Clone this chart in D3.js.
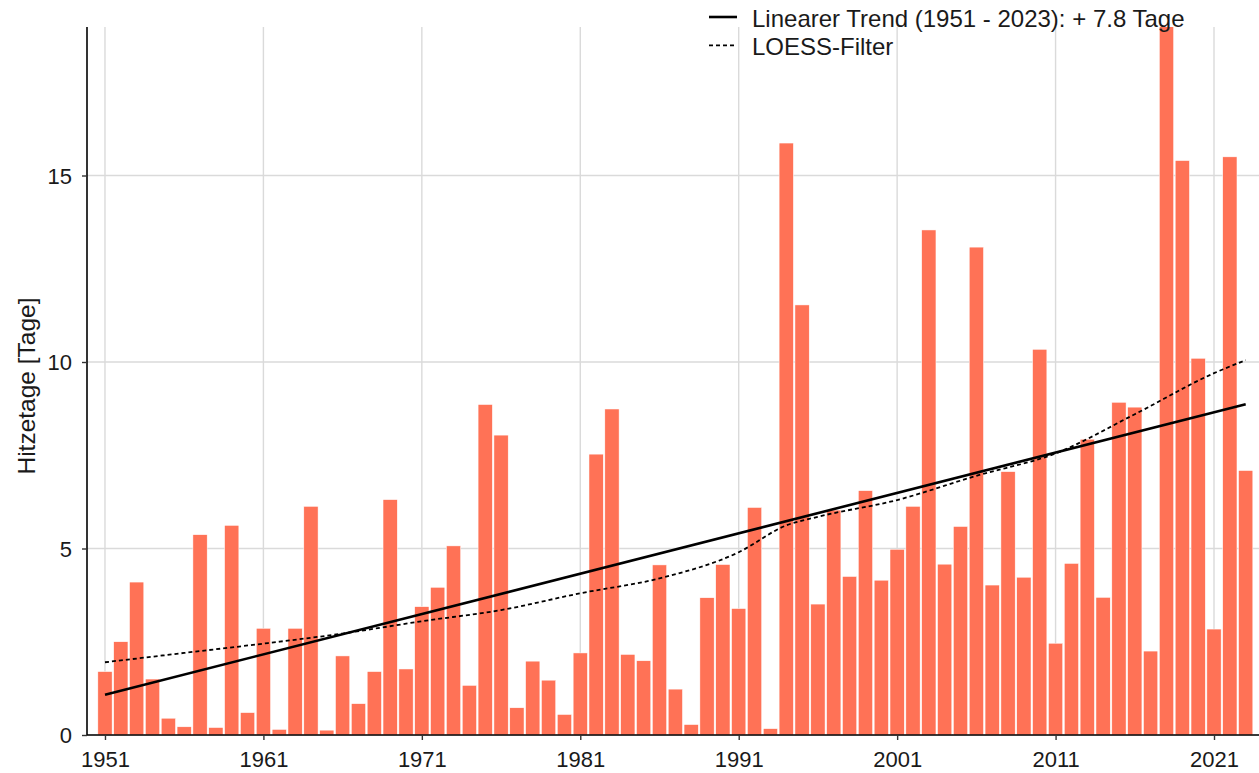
<!DOCTYPE html>
<html>
<head>
<meta charset="utf-8">
<script src="https://cdn.jsdelivr.net/npm/d3@7"></script>
<style>
  body { margin: 0; background: #fff; }
  text { font-family: "Liberation Sans", Arial, sans-serif; fill: #1a1a1a; }
</style>
</head>
<body>
<svg id="chart" width="1259" height="773"></svg>
<script>
// Hitzetage per year, 1951 - 2023
const years = d3.range(1951, 2024);
const hitzetage = [
  1.7, 2.5, 4.1, 1.5, 0.45, 0.22, 5.37, 0.2, 5.62, 0.6,
  2.86, 0.15, 2.86, 6.13, 0.13, 2.12, 0.84, 1.7, 6.31, 1.77,
  3.44, 3.96, 5.07, 1.33, 8.86, 8.04, 0.73, 1.98, 1.47, 0.55,
  2.2, 7.53, 8.74, 2.16, 1.99, 4.56, 1.23, 0.28, 3.68, 4.57,
  3.39, 6.1, 0.17, 15.87, 11.53, 3.51, 6.03, 4.25, 6.55, 4.15,
  4.98, 6.13, 13.54, 4.58, 5.59, 13.08, 4.02, 7.06, 4.23, 10.34,
  2.46, 4.6, 7.93, 3.69, 8.92, 8.79, 2.25, 19.2, 15.4, 10.1,
  2.84, 15.5, 7.09
];

// linear trend endpoints (1951, 2023)
const trendYears = [1951, 2023];
const trendValues = [1.08, 8.87];

// LOESS filter
const loessYears = [1951, 1956, 1961, 1966, 1971, 1976, 1981, 1986, 1991, 1994, 1996, 2001, 2006, 2011, 2016, 2021, 2023];
const loessValues = [1.95, 2.2, 2.45, 2.72, 3.05, 3.35, 3.8, 4.2, 4.9, 5.62, 5.85, 6.3, 6.95, 7.55, 8.6, 9.7, 10.05];

const xTicks = [1951, 1961, 1971, 1981, 1991, 2001, 2011, 2021];
const yTicks = [0, 5, 10, 15];

const pLeft = 87, pRight = 1259, pTop = 27, pBottom = 735;

const svg = d3.select("#chart");

const x = d3.scaleLinear()
    .domain([1949.865, 2023.84])
    .range([pLeft, pRight]);

const y = d3.scaleLinear()
    .domain([0, 19])
    .range([pBottom, pBottom - 19 * 37.3]);

const step = x(1952) - x(1951);
const barW = step * 0.9;

svg.append("clipPath").attr("id", "panel")
  .append("rect")
    .attr("x", pLeft).attr("y", pTop)
    .attr("width", pRight - pLeft).attr("height", pBottom - pTop);

// grid
svg.append("g")
  .selectAll("line")
  .data(yTicks)
  .join("line")
    .attr("x1", pLeft).attr("x2", pRight)
    .attr("y1", d => y(d)).attr("y2", d => y(d))
    .attr("stroke", "#dadada").attr("stroke-width", 1.4);

svg.append("g")
  .selectAll("line")
  .data(xTicks)
  .join("line")
    .attr("x1", d => x(d)).attr("x2", d => x(d))
    .attr("y1", pTop).attr("y2", pBottom)
    .attr("stroke", "#dadada").attr("stroke-width", 1.4);

// bars
svg.append("g")
    .attr("clip-path", "url(#panel)")
  .selectAll("rect")
  .data(years)
  .join("rect")
    .attr("x", d => x(d) - barW / 2)
    .attr("width", barW)
    .attr("y", (d, i) => y(hitzetage[i]))
    .attr("height", (d, i) => pBottom - y(hitzetage[i]))
    .attr("fill", "#FF7256")
    .attr("stroke", "#fff")
    .attr("stroke-width", 0.5);

// LOESS
const loessLine = d3.line()
    .x(d => x(d[0]))
    .y(d => y(d[1]))
    .curve(d3.curveMonotoneX);

svg.append("path")
    .datum(loessYears.map((yr, i) => [yr, loessValues[i]]))
    .attr("d", loessLine)
    .attr("fill", "none")
    .attr("stroke", "#000")
    .attr("stroke-width", 1.8)
    .attr("stroke-dasharray", "4,3");

// linear trend
svg.append("path")
    .datum(trendYears.map((yr, i) => [yr, trendValues[i]]))
    .attr("d", d3.line().x(d => x(d[0])).y(d => y(d[1])))
    .attr("fill", "none")
    .attr("stroke", "#000")
    .attr("stroke-width", 2.6);

// axes
const xAxis = svg.append("g")
    .attr("transform", `translate(0,${pBottom})`)
    .call(d3.axisBottom(x).tickValues(xTicks).tickFormat(d3.format("d")).tickSize(5).tickSizeOuter(0));
xAxis.select(".domain").attr("d", `M${pLeft},0H${pRight}`).attr("stroke-width", 1.6);

const yAxis = svg.append("g")
    .attr("transform", `translate(${pLeft},0)`)
    .call(d3.axisLeft(y).tickValues(yTicks).tickSize(5).tickSizeOuter(0));
yAxis.select(".domain").attr("d", `M0,${pTop}V${pBottom}`).attr("stroke-width", 1.6);

svg.selectAll(".tick line").attr("stroke", "#333").attr("stroke-width", 1.4);
svg.selectAll(".tick text").style("font-size", "22px").attr("fill", "#1a1a1a")
    .style("font-family", '"Liberation Sans", Arial, sans-serif');
xAxis.selectAll(".tick text").attr("y", 31.5).attr("dy", 0);
yAxis.selectAll(".tick text").attr("x", -15).attr("dy", "0.36em");

// y title
svg.append("text")
    .attr("transform", "translate(35,386) rotate(-90)")
    .attr("text-anchor", "middle")
    .style("font-size", "24.5px")
    .text("Hitzetage [Tage]");

// legend
const legend = [
  { label: "Linearer Trend (1951 - 2023): + 7.8 Tage", dash: null, w: 2.6 },
  { label: "LOESS-Filter", dash: "4,3", w: 1.8 }
];
const lg = svg.append("g").selectAll("g")
  .data(legend)
  .join("g")
    .attr("transform", (d, i) => `translate(709,${17 + i * 28.3})`);
lg.append("line")
    .attr("x1", 0).attr("x2", 28)
    .attr("stroke", "#000")
    .attr("stroke-width", d => d.w)
    .attr("stroke-dasharray", d => d.dash);
lg.append("text")
    .attr("x", 43).attr("y", 9.7)
    .style("font-size", "24px")
    .text(d => d.label);
</script>
</body>
</html>
